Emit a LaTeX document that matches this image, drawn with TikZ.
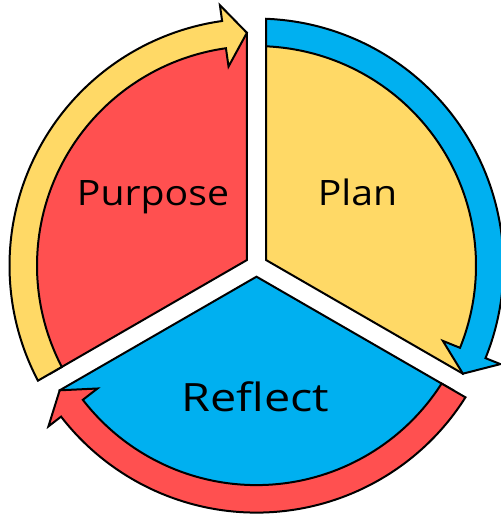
\documentclass[tikz,border=0pt]{standalone}
\usepackage{fontspec}
\setmainfont{Open Sans}
\definecolor{segred}{HTML}{FF5050}
\definecolor{segyellow}{HTML}{FFD966}
\definecolor{segblue}{HTML}{00B0F0}

\begin{document}
\begin{tikzpicture}[x=1pt,y=1pt,line join=miter,
  sector/.style={draw=black,line width=2pt},
  cyclearrow/.style={draw=black,line width=2pt},
  lbl/.style={font=\fontsize{35}{42}\selectfont,anchor=base,inner sep=0pt,xscale=1.12}]
\useasboundingbox (-256.5,-250.4) rectangle (243.5,265.6);

% gap half width 9.6; sector radius 233; arrow band 219.5..247
% --- three sectors, separated by gaps along the rays 90, 210 and 330 degrees
\coordinate (cr) at (-9.6,5.54);
\coordinate (cy) at (9.6,5.54);
\coordinate (cb) at (0,-11.085);
\path[sector,fill=segred]    (cr) -- (92.36:233)  arc[start angle=92.36,end angle=207.64,radius=233] -- cycle;
\path[sector,fill=segyellow] (cy) -- (-27.64:233) arc[start angle=-27.64,end angle=87.64,radius=233] -- cycle;
\path[sector,fill=segblue]   (cb) -- (212.36:233) arc[start angle=212.36,end angle=327.64,radius=233] -- cycle;

% --- curved arrows round the rim, all running clockwise
% yellow: from the lower left up to the top gap
\path[cyclearrow,fill=segyellow]
  (207.77:247) arc[start angle=207.77,end angle=98,radius=247]
  -- (98:263) -- (92.36:233) -- (98:201) -- (98:219.5)
  arc[start angle=98,end angle=207.49,radius=219.5] -- cycle;
% blue: from the top gap down to the right gap
\path[cyclearrow,fill=segblue]
  (87.77:247) arc[start angle=87.77,end angle=-22,radius=247]
  -- (-22:263) -- (-27.64:233) -- (-22:201) -- (-22:219.5)
  arc[start angle=-22,end angle=87.49,radius=219.5] -- cycle;
% red: from the right gap round the bottom to the left gap
\path[cyclearrow,fill=segred]
  (-32.23:247) arc[start angle=-32.23,end angle=-142.3,radius=247]
  -- (-142.3:263) -- (-147.64:233) -- (-142.3:201) -- (-142.3:219.5)
  arc[start angle=-142.3,end angle=-32.51,radius=219.5] -- cycle;

% --- labels
\node[lbl] (purpose) at (-103.5,59.6) {Purpose};
\node[lbl] (plan) at (101,59.9) {Plan};
\node[lbl,font=\fontsize{39}{46}\selectfont,xscale=1.07] (reflect) at (-1.2,-145.4) {Reflect};
\end{tikzpicture}
\end{document}
